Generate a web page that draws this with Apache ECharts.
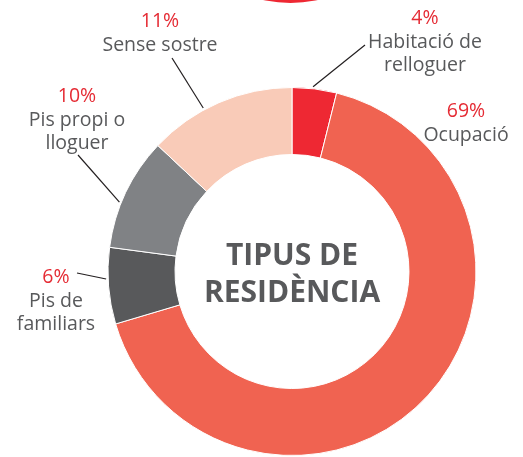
<!DOCTYPE html>
<html>
<head>
<meta charset="utf-8">
<script src="https://cdn.jsdelivr.net/npm/echarts@6/dist/echarts.min.js"></script>
<style>
  html, body { margin: 0; padding: 0; background: #fff; }
  #chart { width: 523px; height: 457px; }
</style>
</head>
<body>
<div id="chart"></div>
<script>
// data
const names = ['Habitació de relloguer', 'Ocupació', 'Pis de familiars', 'Pis propi o lloguer', 'Sense sostre'];
const nameLines = [['Habitació de', 'relloguer'], ['Ocupació'], ['Pis de', 'familiars'], ['Pis propi o', 'lloguer'], ['Sense sostre']];
const pctLabels = ['4%', '69%', '6%', '10%', '11%'];
// slice shares as drawn (measured from the arc angles)
const shares = [3.9, 66.5, 6.7, 9.9, 13.0];
const colors = ['#ee2833', '#f06351', '#58595b', '#808285', '#f9cbb8'];

// layout
const cx = 292, cy = 271.5, rIn = 117, rOut = 184;
const labelPos = [[425, 7], [466, 100], [56, 266], [77, 85], [160, 10]];
const lineEnd = [[365, 45], null, [77, 273], [78, 155], [172, 58]];
const lineAngle = [6.5, null, 267.7, 291.9, 331.5]; // deg clockwise from top

const chart = echarts.init(document.getElementById('chart'));

function edgePoint(deg) {
  const a = deg * Math.PI / 180;
  return [cx + (rOut + 2) * Math.sin(a), cy - (rOut + 2) * Math.cos(a)];
}

const data = names.map((n, i) => ({
  name: n,
  value: shares[i],
  itemStyle: { color: colors[i] },
  labelLine: { show: lineEnd[i] !== null }
}));

const option = {
  animation: false,
  graphic: [
    { type: 'circle', shape: { cx: 290.5, cy: -124, r: 127 }, style: { fill: '#ee2833' } },
    {
      type: 'text', x: cx, y: cy + 3,
      style: {
        text: 'TIPUS DE\nRESIDÈNCIA', textAlign: 'center', textVerticalAlign: 'middle',
        font: 'bold 30px "Open Sans"', lineHeight: 37, fill: '#58595b'
      }
    }
  ],
  series: [{
    type: 'pie',
    center: [cx, cy],
    radius: [rIn, rOut],
    startAngle: 90,
    clockwise: true,
    itemStyle: { borderColor: '#fff', borderWidth: 1 },
    label: {
      show: true,
      overflow: 'none',
      alignTo: 'none',
      formatter: p => '{p|' + pctLabels[p.dataIndex] + '}\n' +
        nameLines[p.dataIndex].map(t => '{n|' + t + '}').join('\n'),
      rich: {
        p: { color: '#e52b34', fontSize: 19.5, fontFamily: 'Open Sans', lineHeight: 23.5, align: 'center' },
        n: { color: '#58595b', fontSize: 19.5, fontFamily: 'Open Sans', lineHeight: 23.5, align: 'center' }
      }
    },
    labelLine: { show: true, lineStyle: { color: '#231f20', width: 1.2 } },
    labelLayout: function (params) {
      const i = params.dataIndex;
      const out = { x: labelPos[i][0], y: labelPos[i][1], align: 'center', verticalAlign: 'top' };
      if (lineEnd[i]) {
        out.labelLinePoints = [edgePoint(lineAngle[i]), lineEnd[i], lineEnd[i]];
      }
      return out;
    },
    emphasis: { disabled: true },
    data: data
  }]
};

chart.setOption(option);
</script>
</body>
</html>
